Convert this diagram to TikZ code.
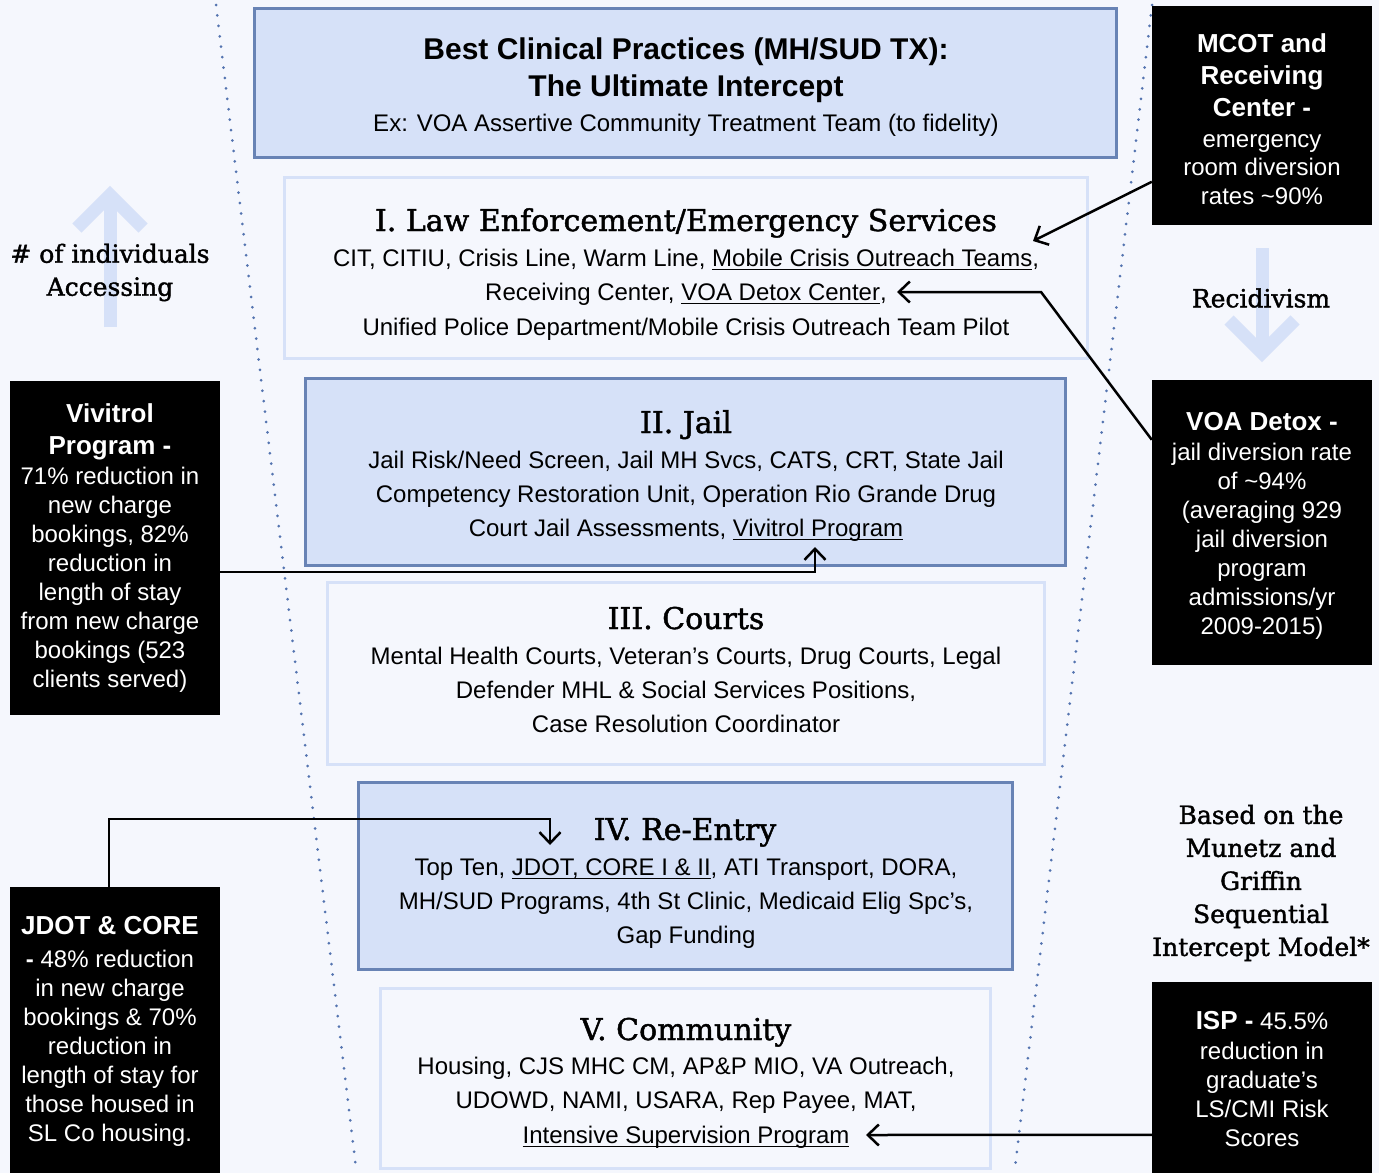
\documentclass[tikz,border=0pt]{standalone}
\usepackage{fontspec}
\setmainfont{Liberation Sans}
\newfontfamily\serifx[BoldFont={DejaVu Serif}, BoldFeatures={FakeBold=1.5}]{DejaVu Serif}
\newcommand\myul[1]{\leavevmode\setbox0\hbox{#1}\rlap{\vrule height -2.6pt depth 4pt width \wd0}\box0}
\usetikzlibrary{arrows.meta,calc}
\definecolor{bg}{RGB}{245,247,253}
\definecolor{lb}{RGB}{214,225,248}
\definecolor{db}{RGB}{104,131,181}
\definecolor{dotc}{RGB}{84,116,176}
\newcommand\hb[1]{{\fontsize{26}{29}\selectfont\bfseries #1}}
\tikzset{
  filledbox/.style={draw=db, fill=lb, line width=3pt, inner sep=0pt},
  plainbox/.style={draw=lb, fill=bg, line width=3pt, inner sep=0pt},
  blackbox/.style={fill=black, inner sep=0pt},
  tl/.style={anchor=base, inner sep=0pt, font=\fontsize{24}{34}\selectfont},
  ttl/.style={anchor=base, inner sep=0pt, font=\serifx\bfseries\fontsize{30}{36}\selectfont},
  side/.style={align=center, inner sep=0pt, font=\serifx\bfseries\fontsize{25}{33}\selectfont},
  wt/.style={text=white, align=center, inner sep=0pt, font=\fontsize{24}{29}\selectfont},
  conn/.style={line width=2.5pt, -{Straight Barb[length=11pt,width=21pt]}},
  dotline/.style={dotc, line width=3pt, line cap=round, dash pattern=on 0pt off 10.5pt},
  bigarrow/.style={lb, line width=13pt}
}
\begin{document}
\begin{tikzpicture}[x=1pt,y=-1pt]
\path[use as bounding box, fill=bg] (0,0) rectangle (1379,1173);

% dotted funnel lines
\draw[dotline] (216,5) -- (356,1168);
\draw[dotline] (1152,5) -- (1015,1168);

% big light arrows
\draw[bigarrow] (110,327) -- (110,200);
\draw[bigarrow] (77,228) -- (110,195) -- (143,228);
\draw[bigarrow] (1262,248) -- (1262,345);
\draw[bigarrow] (1229,320) -- (1262,353) -- (1295,320);

% main boxes
\node[filledbox, minimum width=862pt, minimum height=149pt] (b0) at (685.5,83) {};
\node[plainbox, minimum width=803pt, minimum height=181pt] (b1) at (686,268) {};
\node[filledbox, minimum width=760pt, minimum height=187pt] (b2) at (685.5,472) {};
\node[plainbox, minimum width=717pt, minimum height=182pt] (b3) at (686,673.5) {};
\node[filledbox, minimum width=654pt, minimum height=187pt] (b4) at (685.5,876) {};
\node[plainbox, minimum width=610pt, minimum height=180pt] (b5) at (685.5,1078.5) {};

% top box text
\node[tl] (t0a) at (686,59) {\bfseries\fontsize{30}{34}\selectfont Best Clinical Practices (MH/SUD TX):};
\node[tl] (t0b) at (686,96) {\bfseries\fontsize{30}{34}\selectfont The Ultimate Intercept};
\node[tl] (t0c) at (686,131) {Ex: VOA Assertive Community Treatment Team (to fidelity)};

% box I
\node[ttl] (t1) at (686,231) {I. Law Enforcement/Emergency Services};
\node[tl] (l1a) at (686,266) {CIT, CITIU, Crisis Line, Warm Line, \myul{Mobile Crisis Outreach Teams},};
\node[tl] (l1b) at (686,300) {Receiving Center, \myul{VOA Detox Center},};
\node[tl] (l1c) at (686,335) {Unified Police Department/Mobile Crisis Outreach Team Pilot};

% box II
\node[ttl] (t2) at (686,433) {II. Jail};
\node[tl] (l2a) at (686,468) {Jail Risk/Need Screen, Jail MH Svcs, CATS, CRT, State Jail};
\node[tl] (l2b) at (686,502) {Competency Restoration Unit, Operation Rio Grande Drug};
\node[tl] (l2c) at (686,536) {Court Jail Assessments, \myul{Vivitrol Program}};

% box III
\node[ttl] (t3) at (686,629) {III. Courts};
\node[tl] (l3a) at (686,664) {Mental Health Courts, Veteran’s Courts, Drug Courts, Legal};
\node[tl] (l3b) at (686,698) {Defender MHL \& Social Services Positions,};
\node[tl] (l3c) at (686,732) {Case Resolution Coordinator};

% box IV
\node[ttl] (t4) at (685,840) {IV. Re-Entry};
\node[tl] (l4a) at (686,875) {Top Ten, \myul{JDOT, CORE I \& II}, ATI Transport, DORA,};
\node[tl] (l4b) at (686,909) {MH/SUD Programs, 4th St Clinic, Medicaid Elig Spc’s,};
\node[tl] (l4c) at (686,943) {Gap Funding};

% box V
\node[ttl] (t5) at (686,1040) {V. Community};
\node[tl] (l5a) at (686,1074) {Housing, CJS MHC CM, AP\&P MIO, VA Outreach,};
\node[tl] (l5b) at (686,1108) {UDOWD, NAMI, USARA, Rep Payee, MAT,};
\node[tl] (l5c) at (686,1143) {\myul{Intensive Supervision Program}};

% side texts
\node[side] (acc) at (110,272.5) {\# of individuals\\Accessing};
\node[side] (rec) at (1261,298) {Recidivism};
\node[side] (based) at (1261,883) {Based on the\\Munetz and\\Griffin\\Sequential\\Intercept Model*};

% black boxes
\node[blackbox, minimum width=220pt, minimum height=219pt] (mcot) at (1262,115.5) {};
\node[blackbox, minimum width=220pt, minimum height=285pt] (voa) at (1262,522.5) {};
\node[blackbox, minimum width=210pt, minimum height=334pt] (viv) at (115,548) {};
\node[blackbox, minimum width=210pt, minimum height=286pt] (jdot) at (115,1030) {};
\node[blackbox, minimum width=220pt, minimum height=191pt] (isp) at (1262,1077.5) {};

\node[wt] (mcott) at (1262,119) {\hb{MCOT and}\\[3pt]\hb{Receiving}\\[3pt]\hb{Center -}\\[2pt]emergency\\[-1pt]room diversion\\rates \textasciitilde90\%};
\node[wt] (voat) at (1262,526) {\hb{VOA Detox -}\\[1pt]jail diversion rate\\of \textasciitilde94\%\\(averaging 929\\jail diversion\\program\\admissions/yr\\2009-2015)};
\node[wt] (vivt) at (110,548) {\hb{Vivitrol}\\[3pt]\hb{Program -}\\[1pt]71\% reduction in\\new charge\\bookings, 82\%\\reduction in\\length of stay\\from new charge\\bookings (523\\clients served)};
\node[wt] (jdott) at (110,1031) {\hb{JDOT \& CORE}\\[4pt]\textbf{-} 48\% reduction\\in new charge\\bookings \& 70\%\\reduction in\\length of stay for\\those housed in\\SL Co housing.};
\node[wt] (ispt) at (1262,1079.5) {\hb{ISP -} 45.5\%\\[1pt]reduction in\\graduate’s\\LS/CMI Risk\\Scores};

% connectors
\coordinate (a1) at (1033,241);
\draw[conn] ($(mcot.north west)+(0,176)$) -- (a1);
\coordinate (k2) at (1041,292);
\coordinate (a2) at (897,292);
\draw[conn] ($(voa.north west)+(0,60)$) -- (k2) -- (a2);
\coordinate (a3) at (815,547);
\draw[conn] ($(viv.north east)+(0,191)$) -| (a3);
\coordinate (k4) at (550,819);
\coordinate (a4) at (550,845);
\draw[conn] ($(jdot.north)+(-6,0)$) |- (k4) -- (a4);
\coordinate (a5) at (866,1135);
\draw[conn] ($(isp.north west)+(0,153)$) -- (a5);
\end{tikzpicture}
\end{document}
